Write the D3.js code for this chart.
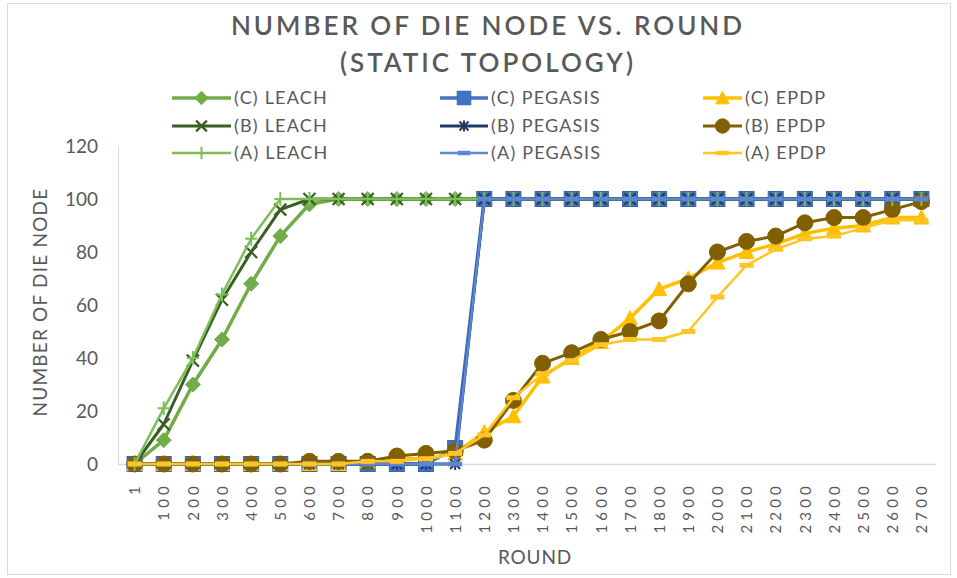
<!DOCTYPE html>
<html>
<head>
<meta charset="utf-8">
<script src="https://cdn.jsdelivr.net/npm/d3@7"></script>
<style>
  html, body { margin: 0; padding: 0; background: #fff; }
  svg { display: block; }
  text { font-family: Lato, "Open Sans", sans-serif; fill: #595959; }
</style>
</head>
<body>
<svg id="chart" width="957" height="578"></svg>
<script>
// ---------- DATA ----------
const categories = ["1","100","200","300","400","500","600","700","800","900","1000","1100","1200","1300","1400","1500","1600","1700","1800","1900","2000","2100","2200","2300","2400","2500","2600","2700"];
const yTicks = [0, 20, 40, 60, 80, 100, 120];

const leachC   = [0, 9, 30, 47, 68, 86, 98, 100, 100, 100, 100, 100, 100, 100, 100, 100, 100, 100, 100, 100, 100, 100, 100, 100, 100, 100, 100, 100];
const pegasisC = [0, 0, 0, 0, 0, 0, 0, 0, 0, 0, 0, 6, 100, 100, 100, 100, 100, 100, 100, 100, 100, 100, 100, 100, 100, 100, 100, 100];
const epdpC    = [0, 0, 0, 0, 0, 0, 0, 0, 1, 2, 2, 4, 12, 18, 33, 40, 46, 55, 66, 70, 76, 80, 83, 87, 89, 90, 93, 93];
const leachB   = [0, 15, 39, 62, 80, 96, 100, 100, 100, 100, 100, 100, 100, 100, 100, 100, 100, 100, 100, 100, 100, 100, 100, 100, 100, 100, 100, 100];
const pegasisB = [0, 0, 0, 0, 0, 0, 0, 0, 0, 0, 0, 0, 100, 100, 100, 100, 100, 100, 100, 100, 100, 100, 100, 100, 100, 100, 100, 100];
const epdpB    = [0, 0, 0, 0, 0, 0, 1, 1, 1, 3, 4, 5, 9, 24, 38, 42, 47, 50, 54, 68, 80, 84, 86, 91, 93, 93, 96, 99];
const leachA   = [0, 21, 40, 64, 85, 100, 100, 100, 100, 100, 100, 100, 100, 100, 100, 100, 100, 100, 100, 100, 100, 100, 100, 100, 100, 100, 100, 100];
const pegasisA = [0, 0, 0, 0, 0, 0, 0, 0, 0, 0, 0, 0, 100, 100, 100, 100, 100, 100, 100, 100, 100, 100, 100, 100, 100, 100, 100, 100];
const epdpA    = [0, 0, 0, 0, 0, 0, 0, 0, 1, 1, 2, 4, 11, 25, 34, 39, 45, 47, 47, 50, 63, 75, 81, 85, 86, 89, 92, 92];

const seriesNames = ["(C) LEACH", "(C) PEGASIS", "(C) EPDP", "(B) LEACH", "(B) PEGASIS", "(B) EPDP", "(A) LEACH", "(A) PEGASIS", "(A) EPDP"];
const seriesValues = [leachC, pegasisC, epdpC, leachB, pegasisB, epdpB, leachA, pegasisA, epdpA];

// styles
const styles = [
  { color: "#70AD47", width: 3.5, marker: "diamond" },
  { color: "#4472C4", width: 3.5, marker: "square" },
  { color: "#FFC000", width: 3.5, marker: "triangle" },
  { color: "#3B5E26", width: 3,   marker: "x" },
  { color: "#203864", width: 3,   marker: "asterisk" },
  { color: "#806000", width: 3,   marker: "circle" },
  { color: "#7DBE58", width: 2.5, marker: "plus" },
  { color: "#5B87D6", width: 2.5, marker: "dash" },
  { color: "#FFC524", width: 2.5, marker: "dash" }
];

const svg = d3.select("#chart");

// frame
svg.append("rect").attr("x", 7.5).attr("y", 3.5).attr("width", 943).attr("height", 571)
  .attr("fill", "none").attr("stroke", "#d9d9d9").attr("stroke-width", 1);

// scales
const x = d3.scalePoint().domain(categories).range([120, 936]).padding(0.5);
const y = d3.scaleLinear().domain([0, 120]).range([464, 146]);

// axes lines
svg.append("line").attr("x1", 118.5).attr("x2", 118.5).attr("y1", 146).attr("y2", 464)
  .attr("stroke", "#d9d9d9").attr("stroke-width", 1);
svg.append("line").attr("x1", 118).attr("x2", 936).attr("y1", 464.5).attr("y2", 464.5)
  .attr("stroke", "#d9d9d9").attr("stroke-width", 1.5);

// y tick labels
const yAxis = d3.axisLeft(y).tickValues(yTicks).tickSize(0).tickPadding(0);
const gy = svg.append("g").attr("transform", "translate(98,0)").call(yAxis);
gy.select(".domain").remove();
gy.selectAll("text").style("font-size", "19px").style("fill", "#595959")
  .style("font-family", "Lato, sans-serif").attr("dy", "0.35em");

// x tick labels
const xAxis = d3.axisBottom(x).tickSize(0).tickPadding(0);
const gx = svg.append("g").attr("transform", "translate(0,482)").call(xAxis);
gx.select(".domain").remove();
gx.selectAll("text")
  .style("font-size", "15px").style("fill", "#595959").style("letter-spacing", "4.2px")
  .style("font-family", "Lato, sans-serif")
  .attr("text-anchor", "end").attr("dy", "0.35em").attr("x", 0).attr("y", 0)
  .attr("transform", "rotate(-90)");

// axis titles
svg.append("text").attr("x", 535).attr("y", 564).attr("text-anchor", "middle")
  .style("font-size", "19px").style("letter-spacing", "0.8px").text("ROUND");
svg.append("text").attr("transform", "translate(47,302) rotate(-90)").attr("text-anchor", "middle")
  .style("font-size", "19px").style("letter-spacing", "1.2px").text("NUMBER OF DIE NODE");

// title
svg.append("text").attr("x", 488).attr("y", 35).attr("text-anchor", "middle")
  .style("font-size", "26px").style("font-weight", "600").style("letter-spacing", "3px")
  .text("NUMBER OF DIE NODE VS. ROUND");
svg.append("text").attr("x", 488).attr("y", 72).attr("text-anchor", "middle")
  .style("font-size", "26px").style("font-weight", "600").style("letter-spacing", "3px")
  .text("(STATIC TOPOLOGY)");

// marker drawing
function drawMarker(g, type, cx, cy, color, scale) {
  const s = scale || 1;
  switch (type) {
    case "diamond":
      g.append("path").attr("d", `M${cx},${cy - 7.5*s} L${cx + 7.5*s},${cy} L${cx},${cy + 7.5*s} L${cx - 7.5*s},${cy} Z`)
        .attr("fill", color).attr("stroke", color).attr("stroke-width", 1);
      break;
    case "square":
      g.append("rect").attr("x", cx - 7.5*s).attr("y", cy - 7.5*s).attr("width", 15*s).attr("height", 15*s)
        .attr("fill", color).attr("stroke", "#3A64B0").attr("stroke-width", 1);
      break;
    case "triangle":
      g.append("path").attr("d", `M${cx},${cy - 7.5*s} L${cx + 7.5*s},${cy + 6.5*s} L${cx - 7.5*s},${cy + 6.5*s} Z`)
        .attr("fill", color).attr("stroke", color).attr("stroke-width", 1);
      break;
    case "x":
      g.append("path").attr("d", `M${cx - 6*s},${cy - 6*s} L${cx + 6*s},${cy + 6*s} M${cx - 6*s},${cy + 6*s} L${cx + 6*s},${cy - 6*s}`)
        .attr("stroke", color).attr("stroke-width", 2.2).attr("fill", "none");
      break;
    case "asterisk":
      g.append("path").attr("d", `M${cx - 5*s},${cy - 5*s} L${cx + 5*s},${cy + 5*s} M${cx - 5*s},${cy + 5*s} L${cx + 5*s},${cy - 5*s} M${cx},${cy - 6*s} L${cx},${cy + 6*s}`)
        .attr("stroke", color).attr("stroke-width", 2).attr("fill", "none");
      break;
    case "circle":
      g.append("circle").attr("cx", cx).attr("cy", cy).attr("r", 8*s)
        .attr("fill", color).attr("stroke", color).attr("stroke-width", 1);
      break;
    case "plus":
      g.append("path").attr("d", `M${cx - 6*s},${cy} L${cx + 6*s},${cy} M${cx},${cy - 7*s} L${cx},${cy + 7*s}`)
        .attr("stroke", color).attr("stroke-width", 2).attr("fill", "none");
      break;
    case "dash":
      g.append("rect").attr("x", cx - 7*s).attr("y", cy - 2.5*s).attr("width", 14*s).attr("height", 5*s)
        .attr("fill", color);
      break;
  }
}

// series
const line = d3.line().x((d, i) => x(categories[i])).y(d => y(d));
const plot = svg.append("g");
seriesValues.forEach((vals, si) => {
  const st = styles[si];
  const g = plot.append("g");
  g.append("path").datum(vals).attr("d", line)
    .attr("fill", "none").attr("stroke", st.color).attr("stroke-width", st.width)
    .attr("stroke-linejoin", "round");
  vals.forEach((v, i) => drawMarker(g, st.marker, x(categories[i]), y(v), st.color, 1));
});

// legend
const legCols = [172, 440, 703];
const legRows = [98, 126, 153];
const legTextX = [234, 491, 745];
seriesNames.forEach((name, si) => {
  const col = si % 3, row = Math.floor(si / 3);
  const st = styles[si];
  const g = svg.append("g");
  const x0 = legCols[col], x1 = legTextX[col] - 3, yy = legRows[row];
  g.append("line").attr("x1", x0).attr("x2", x1).attr("y1", yy).attr("y2", yy)
    .attr("stroke", st.color).attr("stroke-width", st.width);
  drawMarker(g, st.marker, (x0 + x1) / 2, yy, st.color, 0.9);
  g.append("text").attr("x", legTextX[col]).attr("y", yy).attr("dy", "0.35em")
    .style("font-size", "18px").style("letter-spacing", "1.2px").text(name);
});
</script>
</body>
</html>
